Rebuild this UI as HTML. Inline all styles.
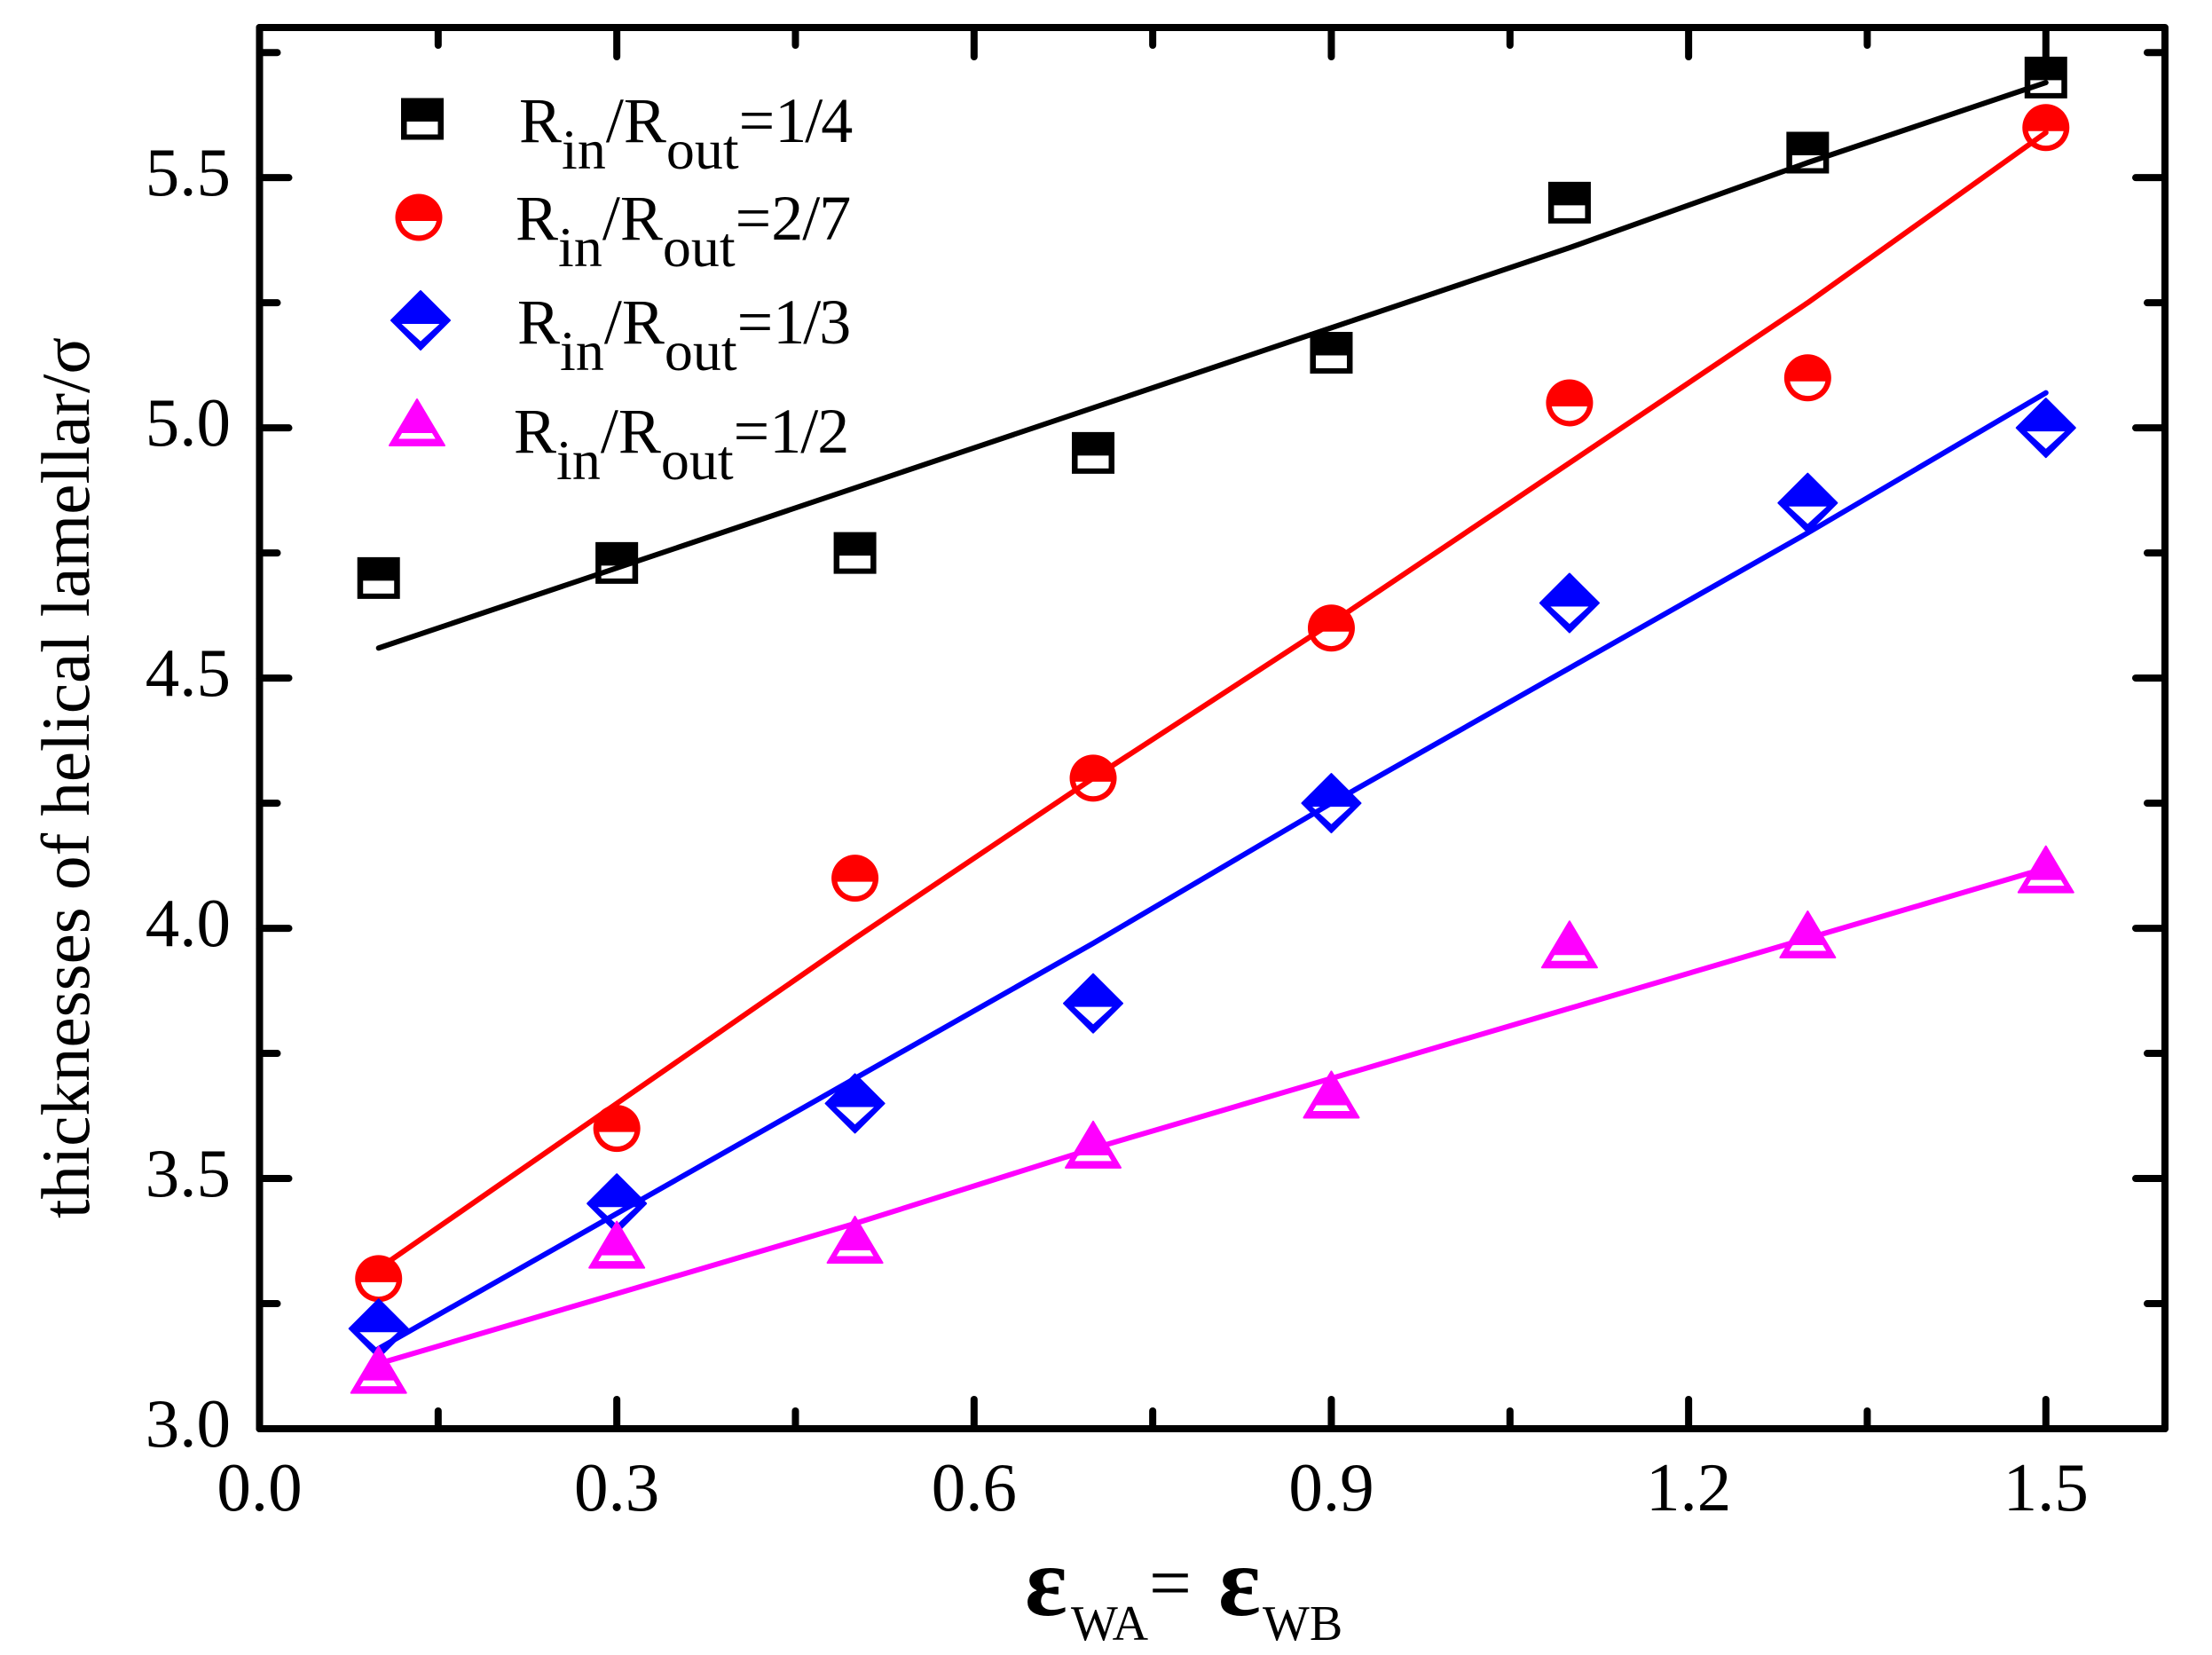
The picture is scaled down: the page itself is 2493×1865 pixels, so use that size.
<!DOCTYPE html>
<html lang="en">
<head>
<meta charset="utf-8">
<title>Thickness of helical lamellar vs wall interaction</title>
<style>
  html, body { margin: 0; padding: 0; background: #fff; }
  svg { display: block; }
  text { font-family: "Liberation Serif", "Times New Roman", serif; fill: #000; }
</style>
</head>
<body>
<svg id="chart" xmlns="http://www.w3.org/2000/svg" width="2493" height="1865" viewBox="0 0 2493 1865">
  <rect x="0" y="0" width="2493" height="1865" fill="#fff"/>
  <g id="ticks"></g>
  <rect x="292.5" y="31" width="2147.5" height="1579" fill="none" stroke="#000" stroke-width="8" stroke-linejoin="round"/>
  <g id="tick-labels" font-size="77"></g>
  <g id="series"></g>

  <text transform="translate(100 1373) rotate(-90)" font-size="77">thicknesses of helical lamellar/σ</text>

  <g>
    <text x="1155" y="1820" font-size="112" font-weight="bold">ε</text>
    <text x="1207" y="1848" font-size="56">WA</text>
    <text x="1295" y="1812" font-size="85">=</text>
    <text x="1373" y="1820" font-size="112" font-weight="bold">ε</text>
    <text x="1423" y="1848" font-size="56">WB</text>
  </g>

  <g id="legend" font-size="72">
    <text x="585" y="160">R<tspan font-size="64" dy="30">in</tspan><tspan dy="-30">/R</tspan><tspan font-size="64" dy="30">out</tspan><tspan dy="-30">=</tspan><tspan letter-spacing="-2">1/4</tspan></text>
    <text x="581" y="270">R<tspan font-size="64" dy="30">in</tspan><tspan dy="-30">/R</tspan><tspan font-size="64" dy="30">out</tspan><tspan dy="-30">=</tspan><tspan letter-spacing="-1">2/7</tspan></text>
    <text x="583" y="387">R<tspan font-size="64" dy="30">in</tspan><tspan dy="-30">/R</tspan><tspan font-size="64" dy="30">out</tspan><tspan dy="-30">=</tspan><tspan letter-spacing="-2">1/3</tspan></text>
    <text x="579" y="510">R<tspan font-size="64" dy="30">in</tspan><tspan dy="-30">/R</tspan><tspan font-size="64" dy="30">out</tspan><tspan dy="-30">=</tspan><tspan letter-spacing="-1">1/2</tspan></text>
  </g>
</svg>
<script>
// Chart data
const categories = [0.1, 0.3, 0.5, 0.7, 0.9, 1.1, 1.3, 1.5];
const pointsQuarter = [4.70, 4.73, 4.75, 4.95, 5.15, 5.45, 5.55, 5.70];
const pointsTwoSevenths = [3.30, 3.60, 4.10, 4.30, 4.60, 5.05, 5.10, 5.60];
const pointsThird = [3.20, 3.45, 3.65, 3.85, 4.25, 4.65, 4.85, 5.00];
const pointsHalf = [3.10, 3.35, 3.36, 3.55, 3.65, 3.95, 3.97, 4.10];
const fitQuarter = [4.56, 4.72, 4.88, 5.04, 5.20, 5.36, 5.53, 5.69];
const fitTwoSevenths = [3.32, 3.65, 3.98, 4.30, 4.61, 4.93, 5.25, 5.59];
const fitThird = [3.16, 3.43, 3.70, 3.97, 4.25, 4.52, 4.79, 5.07];
const fitHalf = [3.13, 3.27, 3.41, 3.56, 3.70, 3.84, 3.98, 4.12];
const xTickLabels = ['0.0', '0.3', '0.6', '0.9', '1.2', '1.5'];
const yTickLabels = ['3.0', '3.5', '4.0', '4.5', '5.0', '5.5'];
const xMinorTicks = [0.15, 0.45, 0.75, 1.05, 1.35];
const yMinorTicks = [3.25, 3.75, 4.25, 4.75, 5.25, 5.75];

const NS = 'http://www.w3.org/2000/svg';
const left = 292.5, right = 2440, top_ = 31, bottom = 1610;
const xMin = 0, xMax = 1.6, yMin = 3.0, yMax = 5.8;
function xScale(v) { return left + (v - xMin) / (xMax - xMin) * (right - left); }
function yScale(v) { return bottom - (v - yMin) / (yMax - yMin) * (bottom - top_); }

function tickLine(parent, x1, y1, x2, y2, name) {
  const el = document.createElementNS(NS, 'line');
  el.setAttribute('x1', x1);
  el.setAttribute('y1', y1);
  el.setAttribute('x2', x2);
  el.setAttribute('y2', y2);
  el.setAttribute('stroke', '#000');
  el.setAttribute('stroke-width', 8);
  el.setAttribute('stroke-linecap', 'round');
  
  
  parent.appendChild(el);
}

function tickText(parent, x, y, anchor, label, name) {
  const el = document.createElementNS(NS, 'text');
  el.setAttribute('x', x);
  el.setAttribute('y', y);
  el.setAttribute('text-anchor', anchor);
  
  
  el.textContent = label;
  parent.appendChild(el);
}

const tg = document.getElementById('ticks');
const lg = document.getElementById('tick-labels');
const MAJOR = 33, MINOR = 20;

xTickLabels.forEach(function (lab) {
  const x = xScale(parseFloat(lab));
  tickLine(tg, x, bottom, x, bottom - MAJOR, 'x-major-tick-bottom');
  tickLine(tg, x, top_, x, top_ + MAJOR, 'x-major-tick-top');
  tickText(lg, x, 1702, 'middle', lab, 'x-tick-label');
});
xMinorTicks.forEach(function (v) {
  const x = xScale(v);
  tickLine(tg, x, bottom, x, bottom - MINOR, 'x-minor-tick-bottom');
  tickLine(tg, x, top_, x, top_ + MINOR, 'x-minor-tick-top');
});
yTickLabels.forEach(function (lab) {
  const y = yScale(parseFloat(lab));
  tickLine(tg, left, y, left + MAJOR, y, 'y-major-tick-left');
  tickLine(tg, right, y, right - MAJOR, y, 'y-major-tick-right');
  tickText(lg, 260, y + 20, 'end', lab, 'y-tick-label');
});
yMinorTicks.forEach(function (v) {
  const y = yScale(v);
  tickLine(tg, left, y, left + MINOR, y, 'y-minor-tick-left');
  tickLine(tg, right, y, right - MINOR, y, 'y-minor-tick-right');
});

function markerPath(shape, c, d) {
  if (shape === 'square') {
    return 'M' + (c - 24) + ' ' + (d - 23.5) + 'H' + (c + 24) + 'V' + (d + 23.5) + 'H' + (c - 24) + 'Z' +
           'M' + (c - 17.5) + ' ' + (d + 3) + 'H' + (c + 17.5) + 'V' + (d + 17.5) + 'H' + (c - 17.5) + 'Z';
  }
  if (shape === 'circle') {
    return 'M' + (c - 26.5) + ' ' + d + 'A26.5 26.5 0 1 1 ' + (c + 26.5) + ' ' + d + 'A26.5 26.5 0 1 1 ' + (c - 26.5) + ' ' + d + 'Z' +
           'M' + (c - 20) + ' ' + (d + 4) + 'H' + (c + 20) + 'A20.4 20.4 0 0 1 ' + (c - 20) + ' ' + (d + 4) + 'Z';
  }
  if (shape === 'diamond') {
    return 'M' + c + ' ' + (d - 33) + 'L' + (c + 33) + ' ' + d + 'L' + c + ' ' + (d + 33) + 'L' + (c - 33) + ' ' + d + 'Z' +
           'M' + (c - 24) + ' ' + (d + 3) + 'H' + (c + 24) + 'L' + c + ' ' + (d + 25) + 'Z';
  }
  return 'M' + c + ' ' + (d - 36) + 'L' + (c + 31) + ' ' + (d + 16) + 'H' + (c - 31) + 'Z' +
         'M' + (c - 17.5) + ' ' + (d + 1) + 'H' + (c + 17.5) + 'L' + (c + 22.5) + ' ' + (d + 9.5) + 'H' + (c - 22.5) + 'Z';
}

function drawMarker(parent, shape, cx, cy, color, name) {
  const el = document.createElementNS(NS, 'path');
  el.setAttribute('d', markerPath(shape, cx, cy));
  el.setAttribute('fill', color);
  el.setAttribute('fill-rule', 'evenodd');
  if (shape === 'diamond' || shape === 'triangle') {
    el.setAttribute('stroke', color);
    el.setAttribute('stroke-width', 2);
    el.setAttribute('stroke-linejoin', 'round');
  }
  
  
  parent.appendChild(el);
}

function drawSeries(name, shape, color, points, fit) {
  const group = document.createElementNS(NS, 'g');
  
  
  document.getElementById('series').appendChild(group);
  points.forEach(function (v, i) {
    drawMarker(group, shape, xScale(categories[i]), yScale(v), color, 'point-' + name);
  });
  const line = document.createElementNS(NS, 'polyline');
  line.setAttribute('points', fit.map(function (v, i) {
    return xScale(categories[i]) + ',' + yScale(v);
  }).join(' '));
  line.setAttribute('fill', 'none');
  line.setAttribute('stroke', color);
  line.setAttribute('stroke-width', 6);
  line.setAttribute('stroke-linecap', 'round');
  line.setAttribute('stroke-linejoin', 'round');
  
  
  group.appendChild(line);
}

drawSeries('ratio-1-4', 'square', '#000000', pointsQuarter, fitQuarter);
drawSeries('ratio-2-7', 'circle', '#ff0000', pointsTwoSevenths, fitTwoSevenths);
drawSeries('ratio-1-3', 'diamond', '#0000ff', pointsThird, fitThird);
drawSeries('ratio-1-2', 'triangle', '#ff00ff', pointsHalf, fitHalf);

const legendGroup = document.getElementById('legend');
drawMarker(legendGroup, 'square', 476, 134, '#000000', 'legend-marker-1-4');
drawMarker(legendGroup, 'circle', 472, 245, '#ff0000', 'legend-marker-2-7');
drawMarker(legendGroup, 'diamond', 474, 361, '#0000ff', 'legend-marker-1-3');
drawMarker(legendGroup, 'triangle', 470, 486, '#ff00ff', 'legend-marker-1-2');
</script>
</body>
</html>
